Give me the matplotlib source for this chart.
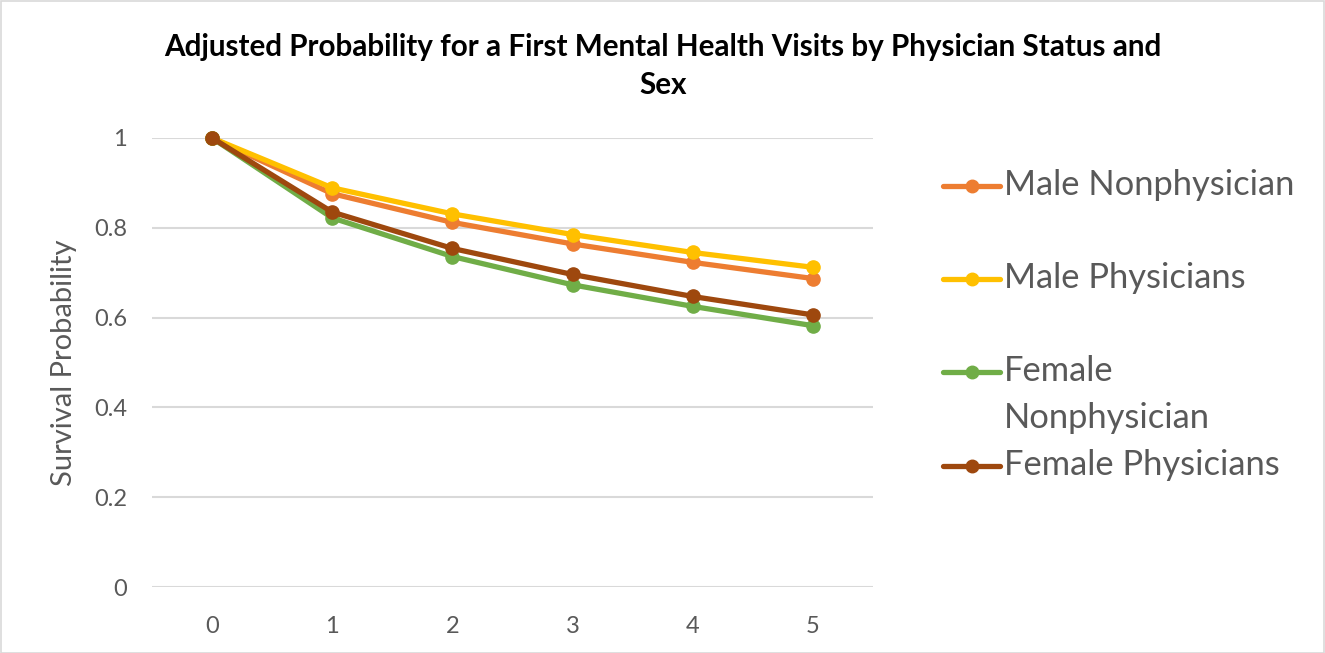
import matplotlib.pyplot as plt
from matplotlib.lines import Line2D
from matplotlib.patches import Rectangle

plt.rcParams['font.family'] = ['Lato', 'DejaVu Sans']

years = [0, 1, 2, 3, 4, 5]
male_nonphys = [1.0, 0.876, 0.812, 0.764, 0.723, 0.687]
male_phys = [1.0, 0.889, 0.831, 0.785, 0.745, 0.712]
female_nonphys = [1.0, 0.822, 0.736, 0.673, 0.625, 0.582]
female_phys = [1.0, 0.835, 0.754, 0.696, 0.647, 0.606]

series = [
    ('Male Nonphysician', male_nonphys, '#ED7D31'),
    ('Male Physicians', male_phys, '#FFC000'),
    ('Female\nNonphysician', female_nonphys, '#70AD47'),
    ('Female Physicians', female_phys, '#9E480E'),
]

W, H = 1325, 653
fig = plt.figure(figsize=(W / 100, H / 100), dpi=100)
fig.patches.append(Rectangle((0.5 / W, 0.5 / H), 1 - 1.5 / W, 1 - 1.5 / H,
                             transform=fig.transFigure, fill=False,
                             edgecolor='#D9D9D9', lw=1.2))

ax = fig.add_axes([152 / W, 1 - 587 / H, 721 / W, 449 / H])
for label, vals, col in series:
    ax.plot(years, vals, color=col, lw=3.8, marker='o', ms=9.5,
            clip_on=False, zorder=3)

ax.set_xlim(-0.5, 5.5)
ax.set_ylim(0, 1)
ax.set_yticks([0, 0.2, 0.4, 0.6, 0.8, 1])
ax.set_yticklabels(['0', '0.2', '0.4', '0.6', '0.8', '1'])
ax.set_xticks(years)
ax.grid(axis='y', color='#D9D9D9', lw=1.5)
ax.set_axisbelow(True)
for s in ax.spines.values():
    s.set_visible(False)
ax.tick_params(length=0, labelsize=17, colors='#595959')
ax.tick_params(axis='y', pad=18)
ax.tick_params(axis='x', pad=21)
ax.set_ylabel('Survival Probability', fontsize=21, color='#595959')
ax.yaxis.set_label_coords((77 - 152) / 721, 0.5)

fig.text(663 / W, 1 - 66 / H,
         'Adjusted Probability for a First Mental Health Visits by Physician Status and\nSex',
         ha='center', va='center', fontsize=21.3, fontweight='bold',
         linespacing=1.45)

# legend drawn by hand so the wrapped entry keeps the fixed slot spacing
slots = [186, 279, 372, 466]
for (label, vals, col), yp in zip(series, slots):
    yf = 1 - yp / H
    fig.add_artist(Line2D([943 / W, 1000 / W], [yf, yf], color=col, lw=3.8,
                          solid_capstyle='round', transform=fig.transFigure))
    fig.add_artist(Line2D([971.5 / W], [yf], color=col, marker='o', ms=9,
                          transform=fig.transFigure))
    fig.text(1004 / W, yf + 17 / H, label, ha='left', va='top', fontsize=24.8,
             color='#595959', linespacing=1.58)

fig.savefig('out.png', dpi=100)
